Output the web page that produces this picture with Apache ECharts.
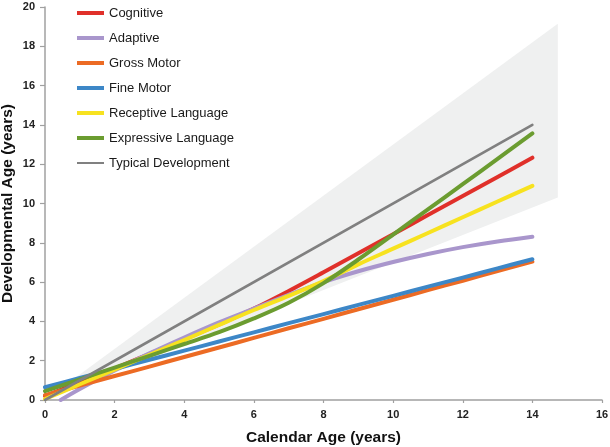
<!DOCTYPE html>
<html>
<head>
<meta charset="utf-8">
<script src="https://cdn.jsdelivr.net/npm/echarts@6/dist/echarts.min.js"></script>
<style>
html,body{margin:0;padding:0;background:#fff;}
#chart{width:610px;height:447px;}
</style>
</head>
<body>
<div id="chart"></div>
<script>
// ---- data ----
const ages = [0,1,2,3,4,5,6,7,8,9,10,11,12,13,14];
const cognitive  = [0.2,0.9,1.6,2.35,3.1,3.85,4.65,5.55,6.5,7.47,8.44,9.41,10.38,11.35,12.33];
const adaptiveAges = [0.45,1,2,3,4,5,6,7,8,9,10,11,12,13,14];
const adaptive   = [0,0.56,1.5,2.37,3.18,3.95,4.65,5.35,6.0,6.55,7.02,7.43,7.78,8.07,8.31];
const grossMotor = [0.25,0.74,1.22,1.7,2.19,2.67,3.16,3.65,4.13,4.62,5.1,5.59,6.07,6.56,7.04];
const fineMotor  = [0.65,1.12,1.58,2.05,2.51,2.98,3.44,3.91,4.37,4.84,5.3,5.77,6.23,6.7,7.16];
const receptive  = [0.05,0.8,1.55,2.3,3.05,3.82,4.58,5.3,6.05,6.9,7.7,8.5,9.3,10.1,10.9];
const expressive = [0.45,1.05,1.65,2.25,2.85,3.45,4.15,4.95,5.95,7.15,8.42,9.7,10.98,12.27,13.57];
const typicalAges = [0,14];
const typical    = [0,14];
const bandAges   = [0,14.73];
const bandLower  = [0,10.31];
const bandUpper  = [0,19.15];
const seriesNames = ['Cognitive','Adaptive','Gross Motor','Fine Motor','Receptive Language','Expressive Language','Typical Development'];

const pair = (xs, ys) => xs.map((x,i)=>[x, ys[i]]);
const colors = ['#e0302a','#a996cc','#ec6b24','#3d87c7','#f7e21f','#6b9c30','#808080'];
const lineData = [
  pair(ages,cognitive), pair(adaptiveAges,adaptive), pair(ages,grossMotor),
  pair(ages,fineMotor), pair(ages,receptive), pair(ages,expressive), pair(typicalAges,typical)
];

const chart = echarts.init(document.getElementById('chart'), null, {renderer:'canvas'});
const series = [
  { name:'band', type:'custom', silent:true, z:1, clip:true,
    data: [[bandAges[0], bandLower[0]]],
    renderItem: function(params, api){
      const lower = bandAges.map((x,i)=>api.coord([x, bandLower[i]]));
      const upper = bandAges.map((x,i)=>api.coord([x, bandUpper[i]])).reverse();
      return { type:'polygon', shape:{points: lower.concat(upper)}, style:{fill:'#eff0f0'} };
    }
  }
];
seriesNames.forEach((n,i)=>{
  series.push({
    name:n, type:'line', data: lineData[i], symbol:'none', showSymbol:false,
    smooth: i===6 ? false : 0.35,
    color: colors[i], itemStyle:{color:colors[i]},
    lineStyle:{color:colors[i], width: i===6 ? 2.6 : 4, cap:'round', join:'round'},
    z: 2 + i
  });
});

const grayIcon = 'path://M0,0h27v0.01h-27z M0,1h27v2h-27z M0,3.99h27v0.01h-27z';

chart.setOption({
  animation:false,
  backgroundColor:'#ffffff',
  grid:{left:45, right:8, top:7, bottom:47, containLabel:false, outerBoundsMode:'none'},
  legend:{
    orient:'vertical', left:77, top:6, padding:0,
    itemWidth:27, itemHeight:4, itemGap:11,
    textStyle:{fontFamily:'Liberation Sans, Arial, sans-serif', fontSize:13, color:'#1a1a1a', lineHeight:14},
    data: seriesNames.map((n,i)=>({name:n, icon: i===6 ? grayIcon : 'rect'}))
  },
  xAxis:{
    type:'value', min:0, max:16, interval:2,
    name:'Calendar Age (years)', nameLocation:'middle', nameGap:30, nameMoveOverlap:false,
    nameTextStyle:{fontFamily:'Liberation Sans, Arial, sans-serif', fontSize:15.5, fontWeight:'bold', color:'#111'},
    axisLine:{show:true, lineStyle:{color:'#a0a0a0', width:1.5}},
    axisTick:{show:true, length:3, lineStyle:{color:'#a0a0a0', width:1.2}},
    axisLabel:{margin:9, fontFamily:'Liberation Sans, Arial, sans-serif', fontSize:11, fontWeight:'bold', color:'#222'},
    splitLine:{show:false}
  },
  yAxis:{
    type:'value', min:0, max:20, interval:2,
    name:'Developmental Age (years)', nameLocation:'middle', nameGap:29, nameMoveOverlap:false,
    nameTextStyle:{fontFamily:'Liberation Sans, Arial, sans-serif', fontSize:15.5, fontWeight:'bold', color:'#111'},
    axisLine:{show:true, lineStyle:{color:'#a0a0a0', width:1.5}},
    axisTick:{show:true, length:5, lineStyle:{color:'#a0a0a0', width:1.2}},
    axisLabel:{margin:10, fontFamily:'Liberation Sans, Arial, sans-serif', fontSize:11, fontWeight:'bold', color:'#222'},
    splitLine:{show:false}
  },
  series: series
});
</script>
</body>
</html>
